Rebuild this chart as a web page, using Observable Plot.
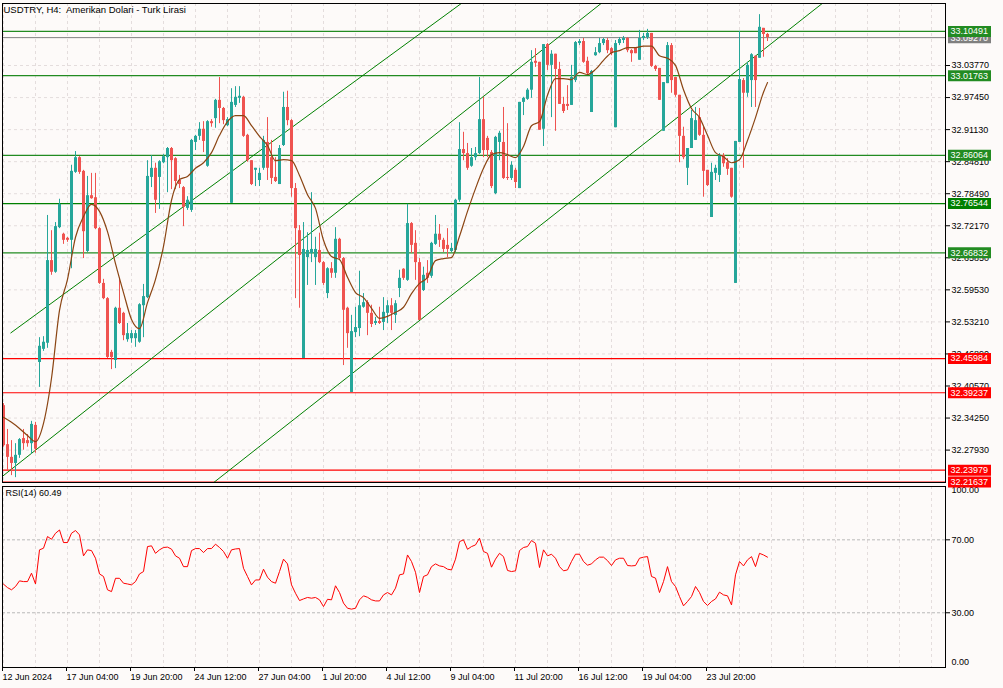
<!DOCTYPE html>
<html><head><meta charset="utf-8">
<script src="https://cdn.jsdelivr.net/npm/d3@7"></script>
<script src="https://cdn.jsdelivr.net/npm/@observablehq/plot@0.6"></script>
<style>
html,body{margin:0;padding:0;background:#fdfaf9;}
#wrap{position:relative;width:1003px;height:688px;overflow:hidden;}
#wrap svg{position:absolute;left:0;}
</style></head><body><div id="wrap"></div>
<script>
// ---- data (H4 bars, index 0 = 12 Jun 2024) ----
const openPrices = [
32.367,32.290,32.265,32.253,32.269,32.302,32.298,32.292,32.328,32.452,
32.478,32.490,32.653,32.630,32.718,32.705,32.697,32.693,32.827,32.856,
32.829,32.671,32.781,32.777,32.716,32.608,32.578,32.472,32.456,32.559,
32.549,32.497,32.499,32.499,32.492,32.564,32.580,32.817,32.835,32.817,
32.846,32.856,32.874,32.854,32.811,32.797,32.756,32.752,32.886,32.898,
32.912,32.839,32.927,32.933,32.969,32.953,32.919,32.766,32.959,32.973,
32.975,32.900,32.850,32.831,32.811,32.835,32.886,32.856,32.817,32.803,
32.880,32.955,32.929,32.795,32.712,32.460,32.659,32.667,32.659,32.673,
32.649,32.588,32.637,32.628,32.695,32.657,32.559,32.393,32.511,32.519,
32.561,32.570,32.549,32.529,32.533,32.531,32.549,32.564,32.545,32.598,
32.636,32.614,32.726,32.687,32.649,32.594,32.628,32.622,32.685,32.705,
32.693,32.683,32.671,32.673,32.772,32.872,32.864,32.839,32.856,32.864,
32.931,32.894,32.866,32.785,32.886,32.886,32.817,32.815,32.831,32.795,
32.965,32.971,32.989,33.046,33.044,32.912,33.079,33.038,33.060,33.030,
32.961,32.961,32.959,33.008,33.081,33.085,33.046,32.945,33.057,33.063,
33.081,33.087,33.071,32.915,33.081,33.087,33.091,33.067,33.073,33.048,
33.091,33.093,33.101,33.036,33.032,32.908,33.002,33.077,33.014,32.979,
32.898,32.835,32.874,32.890,32.935,32.900,32.831,32.738,32.825,32.821,
32.860,32.846,32.835,32.608,32.886,33.008,32.983,33.008,33.056,33.052,
33.111,33.099];
const highPrices = [
32.371,32.320,32.298,32.292,32.302,32.320,32.310,32.336,32.334,32.501,
32.503,32.742,32.712,32.728,32.774,32.707,32.699,32.841,32.868,32.858,
32.831,32.819,32.825,32.825,32.718,32.616,32.580,32.476,32.561,32.618,
32.551,32.529,32.515,32.515,32.568,32.606,32.850,32.860,32.845,32.850,
32.862,32.876,32.876,32.856,32.821,32.799,32.779,32.892,32.900,32.925,
32.927,32.929,32.931,32.971,33.014,32.955,32.935,32.992,32.996,32.996,
32.977,32.902,32.850,32.835,32.835,32.898,32.935,32.890,32.856,32.880,
32.985,32.987,32.931,32.805,32.722,32.728,32.708,32.787,32.699,32.707,
32.651,32.639,32.649,32.718,32.697,32.659,32.561,32.545,32.561,32.632,
32.588,32.574,32.565,32.541,32.561,32.580,32.574,32.578,32.574,32.634,
32.637,32.764,32.728,32.712,32.657,32.640,32.653,32.689,32.742,32.724,
32.697,32.716,32.687,32.774,32.925,32.906,32.884,32.874,32.876,33.014,
32.975,32.898,32.870,32.898,32.908,32.955,32.923,32.848,32.835,32.965,
32.975,32.992,33.067,33.071,33.044,33.079,33.081,33.067,33.060,33.044,
32.975,32.998,33.038,33.085,33.089,33.091,33.054,33.028,33.073,33.091,
33.091,33.091,33.073,33.087,33.093,33.095,33.093,33.069,33.073,33.107,
33.101,33.109,33.101,33.038,33.032,33.004,33.083,33.081,33.014,32.979,
32.916,32.874,32.949,32.955,32.953,32.916,32.831,32.845,32.841,32.864,
32.864,32.854,32.835,32.888,33.105,33.012,33.044,33.061,33.056,33.138,
33.111,33.101];
const lowPrices = [
32.285,32.239,32.229,32.225,32.263,32.279,32.285,32.271,32.273,32.403,
32.474,32.480,32.624,32.628,32.716,32.685,32.689,32.637,32.825,32.823,
32.657,32.669,32.774,32.714,32.606,32.576,32.460,32.438,32.440,32.527,
32.495,32.492,32.490,32.482,32.490,32.501,32.578,32.797,32.746,32.754,
32.844,32.787,32.793,32.793,32.795,32.720,32.752,32.748,32.870,32.890,
32.866,32.837,32.916,32.914,32.923,32.921,32.917,32.766,32.955,32.963,
32.896,32.847,32.801,32.799,32.799,32.831,32.811,32.803,32.807,32.803,
32.878,32.919,32.778,32.578,32.559,32.460,32.604,32.649,32.604,32.647,
32.604,32.578,32.618,32.618,32.653,32.446,32.480,32.393,32.501,32.503,
32.559,32.505,32.521,32.525,32.527,32.515,32.529,32.515,32.529,32.580,
32.614,32.612,32.667,32.614,32.535,32.592,32.608,32.618,32.683,32.679,
32.669,32.659,32.669,32.669,32.768,32.850,32.831,32.837,32.850,32.862,
32.856,32.856,32.795,32.783,32.850,32.813,32.811,32.811,32.795,32.795,
32.939,32.969,32.973,33.034,32.910,32.878,33.028,32.935,32.908,32.961,
32.943,32.949,32.959,33.004,33.077,33.042,33.020,32.945,33.056,33.061,
33.077,33.061,33.057,32.915,33.077,33.081,33.063,33.044,33.061,33.048,
33.087,33.089,33.034,33.026,32.969,32.908,33.002,32.983,32.975,32.846,
32.852,32.801,32.874,32.890,32.898,32.778,32.799,32.738,32.811,32.807,
32.837,32.821,32.776,32.608,32.886,32.835,32.975,32.955,32.955,33.052,
33.054,33.085];
const closePrices = [
32.288,32.265,32.253,32.269,32.300,32.292,32.292,32.330,32.281,32.484,
32.492,32.653,32.630,32.720,32.764,32.693,32.693,32.829,32.856,32.827,
32.710,32.781,32.775,32.716,32.608,32.578,32.462,32.462,32.559,32.529,
32.505,32.509,32.509,32.509,32.566,32.582,32.819,32.835,32.772,32.848,
32.858,32.874,32.850,32.809,32.803,32.758,32.772,32.890,32.898,32.912,
32.888,32.927,32.923,32.969,32.953,32.929,32.931,32.965,32.975,32.977,
32.898,32.850,32.803,32.835,32.825,32.890,32.835,32.815,32.809,32.874,
32.955,32.929,32.795,32.716,32.663,32.675,32.673,32.675,32.675,32.649,
32.608,32.637,32.628,32.695,32.657,32.555,32.509,32.513,32.521,32.564,
32.570,32.549,32.527,32.533,32.529,32.551,32.564,32.549,32.568,32.618,
32.618,32.726,32.683,32.649,32.535,32.624,32.618,32.687,32.705,32.693,
32.675,32.675,32.677,32.772,32.872,32.864,32.835,32.856,32.864,32.931,
32.870,32.870,32.799,32.896,32.904,32.815,32.815,32.841,32.807,32.965,
32.973,32.989,33.044,33.042,32.910,33.079,33.038,33.060,33.030,32.961,
32.947,32.957,33.014,33.083,33.085,33.044,33.022,33.026,33.063,33.081,
33.089,33.067,33.061,33.081,33.089,33.091,33.067,33.061,33.061,33.091,
33.095,33.101,33.036,33.030,32.969,33.004,33.077,33.008,32.979,32.898,
32.856,32.874,32.933,32.929,32.900,32.829,32.801,32.827,32.835,32.860,
32.844,32.833,32.778,32.888,33.010,32.983,33.038,33.059,33.008,33.113,
33.099,33.093];
// moving average (brown line), read every 2nd bar + last bar
const maValues = [
32.344,32.334,32.322,32.308,32.296,32.332,32.421,32.555,32.616,32.699,
32.740,32.764,32.750,32.710,32.647,32.590,32.537,32.519,32.570,32.616,
32.681,32.772,32.813,32.819,32.835,32.846,32.866,32.900,32.927,32.939,
32.939,32.919,32.898,32.880,32.850,32.852,32.850,32.821,32.783,32.756,
32.693,32.661,32.655,32.620,32.590,32.580,32.559,32.539,32.543,32.551,
32.561,32.588,32.608,32.620,32.653,32.657,32.659,32.701,32.750,32.795,
32.835,32.862,32.866,32.862,32.856,32.878,32.919,32.927,32.979,33.012,
33.012,33.010,33.024,33.020,33.030,33.048,33.063,33.067,33.073,33.073,
33.076,33.076,33.057,33.052,33.038,32.990,32.953,32.935,32.900,32.866,
32.858,32.846,32.852,32.890,32.935,32.985,33.004];
const maBars = d3.range(0, 191, 2).concat([191]);
// RSI(14)
const rsiValues = [
45.7,43.8,42.6,44.4,47.5,47.1,47.1,51.7,45.8,64.5,
65.4,71.8,70.3,73.6,75.4,68.5,68.5,73.6,75.1,72.7,
61.2,64.5,64.1,59.9,51.3,49.9,42.6,41.6,48.9,48.9,
46.2,45.8,45.3,47.1,51.3,52.6,66.3,66.7,62.6,64.5,
65.8,66.0,64.9,61.2,59.9,55.3,55.3,64.1,65.2,65.2,
63.0,65.2,65.2,67.6,65.8,63.6,59.9,64.5,65.0,65.2,
54.4,49.9,45.3,48.0,48.0,53.9,49.5,47.1,46.2,52.6,
59.4,56.8,45.3,40.7,36.7,37.6,38.4,38.0,38.4,37.1,
33.4,37.4,37.1,44.8,41.1,35.3,32.5,32.0,32.5,37.1,
39.3,38.5,37.1,36.5,36.5,39.8,41.1,39.8,43.5,50.8,
51.3,61.7,58.1,52.2,41.1,49.9,50.8,55.3,56.8,55.7,
55.3,53.9,53.5,59.4,69.0,70.0,64.8,66.3,67.2,70.9,
63.6,62.6,55.0,59.4,62.6,60.8,53.2,52.6,53.0,64.1,
65.8,66.3,69.6,68.1,54.8,64.5,61.2,62.1,59.9,55.3,
53.0,53.5,58.1,62.1,62.1,58.1,56.1,56.8,59.0,60.5,
60.5,58.6,55.9,59.0,59.9,59.9,55.9,55.7,55.9,59.9,
60.5,60.8,49.9,49.0,41.1,47.1,55.3,47.1,44.4,38.9,
33.8,36.2,38.9,44.4,41.1,36.2,34.0,36.2,37.6,41.3,
39.8,39.3,34.3,50.8,58.1,55.7,59.0,60.8,55.3,62.6,
61.7,60.49];
// horizontal levels and their colours
const levelPrices = [33.10491, 33.01763, 32.86064, 32.76544, 32.66832, 32.45984, 32.39237, 32.23979, 32.21637];
const levelColors = ["#228b22","#228b22","#228b22","#008000","#228b22","#ff0000","#ff0000","#ff0000","#ff0000"];
const bidPrice = 33.09270;
// trend channel lines (bar index, price)
const channelStartBar = [1.75, -1, 52.5];
const channelStartPrice = [32.510, 32.223, 32.215];
const channelEndBar = [116, 151, 205];
const channelEndPrice = [33.169, 33.170, 33.162];
// axes
const priceTicks = [33.03770, 32.97450, 32.91130, 32.84810, 32.78490, 32.72170, 32.65850, 32.59530, 32.53210, 32.46890, 32.40570, 32.34250, 32.27930];
const rsiLevels = [70, 30];
const xTickBars = [0,16,32,48,64,80,96,112,128,144,160,176];
const xTickLabels = ["12 Jun 2024","17 Jun 04:00","19 Jun 20:00","24 Jun 12:00","27 Jun 04:00","1 Jul 20:00","4 Jul 12:00","9 Jul 04:00","11 Jul 20:00","16 Jul 12:00","19 Jul 04:00","23 Jul 20:00"];
const titleText = "USDTRY, H4:\u00a0 Amerikan Dolari - Turk Lirasi";

// ---- build ----
const UP = "#26a69a", DOWN = "#ef5350";
const candles = openPrices.map((o, i) => ({i, o, h: highPrices[i], l: lowPrices[i], c: closePrices[i]}));
const maData = maBars.map((b, k) => ({b, v: maValues[k]}));
const channels = channelStartBar.map((b, k) => ({b1: b, p1: channelStartPrice[k], b2: channelEndBar[k], p2: channelEndPrice[k]}));
const levels = levelPrices.map((p, k) => ({price: p, color: levelColors[k]}));
const bidLevel = [{price: bidPrice, color: "#7f7f7f"}];
const gridBars = d3.range(0, 236, 8);
const xDomain = [-0.25, 235.5];
const FONT = "'Liberation Sans', Arial, sans-serif";
const GRID = "#e4dddd";
const candleColor = d => d.c >= d.o ? UP : DOWN;

const main = Plot.plot({
  width: 1003, height: 490,
  marginLeft: 2, marginRight: 58, marginTop: 3, marginBottom: 8,
  style: {background: "transparent", fontFamily: FONT, fontSize: "9px", color: "#000", overflow: "visible"},
  x: {domain: xDomain, axis: null, label: null},
  y: {domain: [32.2154, 33.1600], axis: null, label: null},
  marks: [
    Plot.ruleX(gridBars, {stroke: GRID, strokeDasharray: "3,3"}),
    Plot.ruleY(priceTicks, {stroke: GRID, strokeDasharray: "3,3"}),
    Plot.ruleY(bidLevel, {y: "price", stroke: "color"}),
    Plot.ruleY(levels, {y: "price", stroke: "color", strokeWidth: 1.2}),
    Plot.link(channels, {x1: "b1", y1: "p1", x2: "b2", y2: "p2", stroke: "#008000", strokeWidth: 1, clip: true}),
    Plot.ruleX(candles, {x: "i", y1: "l", y2: "h", stroke: candleColor, strokeWidth: 1}),
    Plot.ruleX(candles, {x: "i", y1: "o", y2: "c", stroke: candleColor, strokeWidth: 3}),
    Plot.line(maData, {x: "b", y: "v", stroke: "#8b4513", strokeWidth: 1.2, curve: "monotone-x"}),
    Plot.axisY({anchor: "right", ticks: priceTicks, tickFormat: d => d.toFixed(5), tickSize: 4, tickPadding: 2, label: null}),
    Plot.ruleY(bidLevel, {y: "price", stroke: "color", strokeWidth: 11, insetLeft: 946, insetRight: -46}),
    Plot.text(bidLevel, {y: "price", text: d => d.price.toFixed(5), frameAnchor: "right", dx: 5, textAnchor: "start", fill: "white"}),
    Plot.ruleY(levels, {y: "price", stroke: "color", strokeWidth: 11, insetLeft: 946, insetRight: -46}),
    Plot.text(levels, {y: "price", text: d => d.price.toFixed(5), frameAnchor: "right", dx: 5, textAnchor: "start", fill: "white"}),
    Plot.frame({stroke: "#000"}),
    Plot.text([titleText], {frameAnchor: "top-left", dx: 1, dy: 3, lineAnchor: "top", textAnchor: "start", fontSize: 9.5, fill: "#000"})
  ]
});

const rsiChart = Plot.plot({
  width: 1003, height: 203,
  marginLeft: 2, marginRight: 58, marginTop: 1, marginBottom: 21,
  style: {background: "transparent", fontFamily: FONT, fontSize: "9px", color: "#000", overflow: "visible"},
  x: {domain: xDomain, label: null},
  y: {domain: [0, 100], range: [182, -0.4], label: null},
  marks: [
    Plot.ruleX(gridBars, {stroke: GRID, strokeDasharray: "3,3"}),
    Plot.ruleY(rsiLevels, {stroke: "#b9b9b9", strokeDasharray: "3,2"}),
    Plot.line(rsiValues, {x: (d, i) => i, y: d => d, stroke: "#ff0000", strokeWidth: 1}),
    Plot.axisY({anchor: "right", ticks: rsiLevels, tickFormat: d => d.toFixed(2), tickSize: 4, tickPadding: 2, label: null}),
    Plot.text([100], {y: d => d, text: d => d.toFixed(2), frameAnchor: "right", dx: 6, dy: 5, textAnchor: "start"}),
    Plot.text([0], {y: d => d, text: d => d.toFixed(2), frameAnchor: "right", dx: 6, dy: -5, textAnchor: "start"}),
    Plot.axisX({anchor: "bottom", ticks: xTickBars, tickFormat: d => xTickLabels[xTickBars.indexOf(d)], tickSize: 4, tickPadding: 2, textAnchor: "start", dx: -1, label: null}),
    Plot.frame({stroke: "#000"}),
    Plot.text([`RSI(14) ${rsiValues[rsiValues.length - 1].toFixed(2)}`], {frameAnchor: "top-left", dx: 3, dy: 3, lineAnchor: "top", textAnchor: "start", fill: "#000"})
  ]
});

const wrap = document.getElementById("wrap");
rsiChart.style.top = "485px"; rsiChart.style.zIndex = 1;
main.style.top = "0px"; main.style.zIndex = 2;
wrap.appendChild(rsiChart);
wrap.appendChild(main);
</script>
</body></html>
